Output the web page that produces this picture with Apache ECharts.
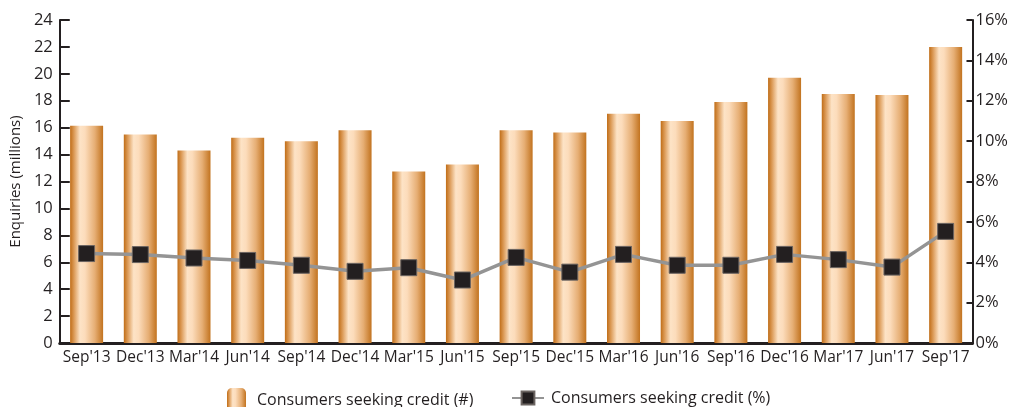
<!DOCTYPE html>
<html>
<head>
<meta charset="utf-8">
<script src="https://cdn.jsdelivr.net/npm/echarts@6/dist/echarts.min.js"></script>
<style>html,body{margin:0;padding:0;background:#fff;}#c{width:1011px;height:407px;}</style>
</head>
<body>
<div id="c"></div>
<script>
var categories = ["Sep'13","Dec'13","Mar'14","Jun'14","Sep'14","Dec'14","Mar'15","Jun'15","Sep'15","Dec'15","Mar'16","Jun'16","Sep'16","Dec'16","Mar'17","Jun'17","Sep'17"];
var enquiries = [16.15,15.5,14.3,15.26,15.0,15.8,12.75,13.26,15.8,15.65,17.03,16.5,17.9,19.7,18.5,18.43,22.0];
var percentSeeking = [4.43,4.38,4.21,4.09,3.85,3.55,3.73,3.12,4.24,3.51,4.39,3.85,3.85,4.39,4.13,3.76,5.53];
var leftTicks = {min:0,max:24,interval:2};
var rightTicks = {min:0,max:16,interval:2};

var FONT = '"Open Sans", "Noto Sans", sans-serif';
var TXT = '#231f20';
var barGrad = new echarts.graphic.LinearGradient(0,0,1,0,[
  {offset:0,color:'#c06d17'},
  {offset:0.12,color:'#dc9b58'},
  {offset:0.3,color:'#fde3c6'},
  {offset:0.45,color:'#fcdcbb'},
  {offset:0.75,color:'#e6ae74'},
  {offset:1,color:'#c2731f'}
]);
var chart = echarts.init(document.getElementById('c'));
chart.setOption({
  animation:false,
  textStyle:{fontFamily:FONT,color:TXT},
  grid:{left:59,right:37,top:20,bottom:64},
  legend:[{
    data:['Consumers seeking credit (#)'],
    left:222, top:383, itemWidth:19, itemHeight:24, itemGap:10,
    textStyle:{fontFamily:FONT,fontSize:16,color:TXT,padding:[0,0,2,6]}
  },{
    data:['Consumers seeking credit (%)'],
    left:506, top:385, itemWidth:32, itemHeight:16,
    textStyle:{fontFamily:FONT,fontSize:16,color:TXT,padding:[0,0,1,2]}
  }],
  xAxis:{
    type:'category', data:categories,
    axisLine:{lineStyle:{color:'#231f20',width:3}},
    axisTick:{show:false},
    axisLabel:{fontFamily:FONT,fontSize:15.5,color:TXT,margin:7,interval:0}
  },
  yAxis:[{
    type:'value', min:leftTicks.min, max:leftTicks.max, interval:leftTicks.interval,
    name:'Enquiries (millions)', nameLocation:'middle', nameGap:36,
    nameTextStyle:{fontFamily:FONT,fontSize:15,color:TXT},
    axisLine:{show:true,lineStyle:{color:'#231f20',width:2}},
    axisTick:{show:true,inside:true,length:10,lineStyle:{color:'#231f20',width:2}},
    axisLabel:{fontFamily:FONT,fontSize:16.5,color:TXT,margin:7},
    splitLine:{show:false}
  },{
    type:'value', min:rightTicks.min, max:rightTicks.max, interval:rightTicks.interval,
    position:'right',
    axisLine:{show:true,lineStyle:{color:'#231f20',width:2}},
    axisTick:{show:true,inside:true,length:6,lineStyle:{color:'#231f20',width:2}},
    axisLabel:{fontFamily:FONT,fontSize:16.5,color:TXT,margin:3,formatter:'{value}%'},
    splitLine:{show:false}
  }],
  series:[{
    name:'Consumers seeking credit (#)', type:'bar', data:enquiries,
    barWidth:33, itemStyle:{color:barGrad}
  },{
    name:'Consumers seeking credit (%)', type:'line', yAxisIndex:1, data:percentSeeking,
    symbol:'rect', symbolSize:16,
    lineStyle:{color:'#949494',width:3.5},
    itemStyle:{color:'#231f20',borderColor:'#6b6461',borderWidth:1}
  }]
});
</script>
</body>
</html>
